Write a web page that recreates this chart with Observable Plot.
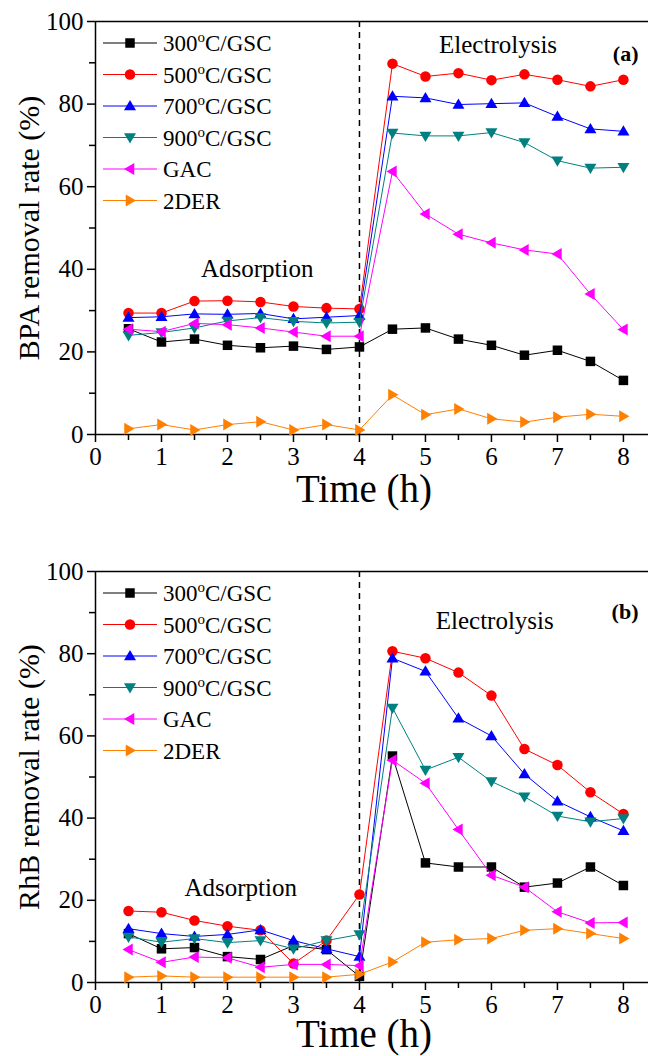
<!DOCTYPE html>
<html>
<head>
<meta charset="utf-8">
<script src="https://cdn.jsdelivr.net/npm/d3@7"></script>
<script src="https://cdn.jsdelivr.net/npm/@observablehq/plot@0.6"></script>
<style>
  html, body { margin: 0; padding: 0; background: #fff; }
  #chart { width: 648px; }
  #chart svg { display: block; }
</style>
</head>
<body>
<div id="chart"></div>
<script>
// ---- data ----
const times = [0.5, 1, 1.5, 2, 2.5, 3, 3.5, 4, 4.5, 5, 5.5, 6, 6.5, 7, 7.5, 8];
const seriesNames = ["300oC/GSC", "500oC/GSC", "700oC/GSC", "900oC/GSC", "GAC", "2DER"];
const seriesColors = ["#000000", "#ff0000", "#0000ff", "#008080", "#ff00ff", "#ff8000"];

const bpa300 = [25.6, 22.4, 23.1, 21.6, 21.0, 21.4, 20.6, 21.2, 25.5, 25.8, 23.1, 21.6, 19.2, 20.4, 17.7, 13.1];
const bpa500 = [29.4, 29.4, 32.3, 32.4, 32.1, 31.0, 30.6, 30.4, 89.8, 86.7, 87.5, 85.8, 87.2, 85.9, 84.3, 85.9];
const bpa700 = [28.3, 28.5, 29.2, 29.1, 29.3, 28.0, 28.4, 28.8, 81.9, 81.5, 79.9, 80.1, 80.3, 77.0, 74.0, 73.4];
const bpa900 = [24.0, 24.7, 25.8, 27.5, 28.3, 27.4, 27.0, 27.2, 73.0, 72.3, 72.3, 73.1, 70.7, 66.3, 64.5, 64.7];
const bpaGAC = [25.5, 24.9, 26.9, 26.6, 25.8, 24.8, 23.8, 23.8, 63.7, 53.4, 48.5, 46.4, 44.7, 43.7, 34.0, 25.4];
const bpa2DER = [1.4, 2.4, 1.1, 2.4, 3.1, 1.1, 2.4, 1.1, 9.6, 4.8, 6.2, 3.8, 3.0, 4.2, 4.9, 4.4];

const rhb300 = [11.9, 8.2, 8.5, 6.3, 5.6, 9.0, 8.0, 1.5, 55.1, 29.1, 28.1, 28.1, 23.2, 24.2, 28.1, 23.6];
const rhb500 = [17.4, 17.1, 15.1, 13.7, 12.7, 4.6, 10.2, 21.4, 80.6, 78.9, 75.4, 69.8, 56.8, 52.9, 46.3, 41.0];
const rhb700 = [13.1, 11.9, 11.2, 11.7, 12.8, 10.2, 8.2, 6.3, 78.9, 75.7, 64.3, 60.0, 50.7, 44.1, 40.3, 36.9];
const rhb900 = [11.1, 9.8, 10.7, 9.7, 10.2, 8.2, 10.2, 11.7, 66.8, 51.7, 54.8, 48.9, 45.2, 40.5, 39.1, 39.9];
const rhbGAC = [8.0, 4.9, 6.2, 6.0, 3.7, 4.4, 4.4, 4.1, 54.1, 48.5, 37.2, 26.1, 23.2, 17.2, 14.5, 14.6];
const rhb2DER = [1.3, 1.6, 1.3, 1.3, 1.3, 1.3, 1.3, 2.0, 5.0, 9.8, 10.4, 10.7, 12.7, 13.1, 11.9, 10.7];

const xTicks = [0, 1, 2, 3, 4, 5, 6, 7, 8];
const xMinorTicks = [0.5, 1.5, 2.5, 3.5, 4.5, 5.5, 6.5, 7.5];
const yTicks = [0, 20, 40, 60, 80, 100];
const yMinorTicks = [10, 30, 50, 70, 90];
const phaseBoundary = [4];

const panelA = {
  values: [bpa300, bpa500, bpa700, bpa900, bpaGAC, bpa2DER],
  yLabel: "BPA removal rate (%)",
  tag: "(a)",
  tagDy: 24,
  titleDy: 67,
  phaseLabels: [{x: 2.45, y: 40, text: "Adsorption"}, {x: 6.1, y: 94.2, text: "Electrolysis"}]
};
const panelB = {
  values: [rhb300, rhb500, rhb700, rhb900, rhbGAC, rhb2DER],
  yLabel: "RhB removal rate (%)",
  tag: "(b)",
  tagDy: 32,
  titleDy: 64,
  phaseLabels: [{x: 2.2, y: 23, text: "Adsorption"}, {x: 6.05, y: 88, text: "Electrolysis"}]
};

// ---- symbols ----
const symSquare = {draw(c, size) { const r = Math.sqrt(size / Math.PI) * 0.95;
  c.moveTo(-r, -r); c.lineTo(r, -r); c.lineTo(r, r); c.lineTo(-r, r); c.closePath(); }};
const symCircle = {draw(c, size) { const r = Math.sqrt(size / Math.PI) * 1.05;
  c.moveTo(r, 0); c.arc(0, 0, r, 0, 2 * Math.PI); }};
const symUp = {draw(c, size) { const r = Math.sqrt(size / Math.PI);
  c.moveTo(0, -1.2 * r); c.lineTo(1.2 * r, 0.85 * r); c.lineTo(-1.2 * r, 0.85 * r); c.closePath(); }};
const symDown = {draw(c, size) { const r = Math.sqrt(size / Math.PI);
  c.moveTo(0, 1.2 * r); c.lineTo(1.2 * r, -0.85 * r); c.lineTo(-1.2 * r, -0.85 * r); c.closePath(); }};
const symLeft = {draw(c, size) { const r = Math.sqrt(size / Math.PI);
  c.moveTo(-1.2 * r, 0); c.lineTo(0.85 * r, -1.2 * r); c.lineTo(0.85 * r, 1.2 * r); c.closePath(); }};
const symRight = {draw(c, size) { const r = Math.sqrt(size / Math.PI);
  c.moveTo(1.2 * r, 0); c.lineTo(-0.85 * r, -1.2 * r); c.lineTo(-0.85 * r, 1.2 * r); c.closePath(); }};
const seriesSymbols = [symSquare, symCircle, symUp, symDown, symLeft, symRight];

const FONT = "'Liberation Serif', 'Times New Roman', serif";
const R = 5;

function makePanel(panel, marginTop, marginBottom) {
  const rows = [];
  panel.values.forEach((vals, i) => {
    times.forEach((t, j) => rows.push({series: seriesNames[i], i, t, v: vals[j]}));
  });
  const marks = [];
  marks.push(Plot.ruleY([0, 100], {stroke: "black", strokeWidth: 1.5}));
  marks.push(Plot.ruleX([0], {stroke: "black", strokeWidth: 1.5}));
  marks.push(Plot.ruleX(phaseBoundary, {stroke: "black", strokeWidth: 1.5, strokeDasharray: "6,5"}));
  marks.push(Plot.axisX({ticks: xTicks, tickSize: 8, tickPadding: 5, fontSize: 25, fontFamily: FONT, label: null, stroke: "black", strokeWidth: 1.5, fill: "black"}));
  marks.push(Plot.axisX({ticks: xMinorTicks, tickSize: 6, tickFormat: () => "", label: null, stroke: "black", strokeWidth: 1.5}));
  marks.push(Plot.axisY({ticks: yTicks, tickSize: 8, tickPadding: 4, fontSize: 25, fontFamily: FONT, label: null, stroke: "black", strokeWidth: 1.5, fill: "black"}));
  marks.push(Plot.axisY({ticks: yMinorTicks, tickSize: 6, tickFormat: () => "", label: null, stroke: "black", strokeWidth: 1.5}));
  seriesNames.forEach((name, i) => {
    const d = rows.filter(r => r.i === i);
    marks.push(Plot.line(d, {x: "t", y: "v", stroke: seriesColors[i], strokeWidth: 1}));
    marks.push(Plot.dot(d, {x: "t", y: "v", fill: seriesColors[i], stroke: "none", symbol: seriesSymbols[i], r: R}));
  });
  marks.push(Plot.text(panel.phaseLabels, {x: "x", y: "y", text: "text", fontSize: 25, fontFamily: FONT, fill: "black"}));
  marks.push(Plot.text([panel.tag], {frameAnchor: "top-right", text: d => d, dx: -10, dy: panel.tagDy, fontSize: 22, fontWeight: "bold", fontFamily: FONT, textAnchor: "end", fill: "black"}));
  marks.push(Plot.text(["Time (h)"], {frameAnchor: "bottom", text: d => d, dy: panel.titleDy, dx: -8, fontSize: 39, fontFamily: FONT, textAnchor: "middle", fill: "black"}));
  marks.push(Plot.text([panel.yLabel], {frameAnchor: "left", text: d => d, dx: -66, rotate: -90, fontSize: 30, fontFamily: FONT, textAnchor: "middle", fill: "black"}));

  const svg = Plot.plot({
    width: 648,
    height: 528,
    marginTop, marginBottom,
    marginLeft: 95,
    marginRight: 0,
    style: {fontFamily: FONT, background: "white", overflow: "visible"},
    x: {domain: [0, 8.38], label: null},
    y: {domain: [0, 100], label: null},
    marks
  });

  // legend inside the plot area (top-left)
  const g = d3.select(svg).append("g").attr("font-family", FONT).attr("font-size", 23).attr("text-anchor", "start");
  const top = marginTop;
  seriesNames.forEach((name, i) => {
    const cy = top + 22 + 31.5 * i;
    g.append("line").attr("x1", 103).attr("x2", 157).attr("y1", cy).attr("y2", cy)
      .attr("stroke", seriesColors[i]).attr("stroke-width", 1.2);
    g.append("path").attr("transform", `translate(130,${cy})`)
      .attr("d", d3.symbol().type(seriesSymbols[i]).size(Math.PI * R * R)())
      .attr("fill", seriesColors[i]);
    const t = g.append("text").attr("x", 163).attr("y", cy + 8).attr("fill", "black").attr("text-anchor", "start");
    const m = name.match(/^(\d+)o(C\/GSC)$/);
    if (m) {
      t.append("tspan").text(m[1]);
      t.append("tspan").attr("dy", -9).attr("font-size", 15).text("o");
      t.append("tspan").attr("dy", 9).text(m[2]);
    } else {
      t.text(name);
    }
  });
  return svg;
}

const chart = document.getElementById("chart");
chart.appendChild(makePanel(panelA, 21, 94));
chart.appendChild(makePanel(panelB, 43, 74));
</script>
</body>
</html>
